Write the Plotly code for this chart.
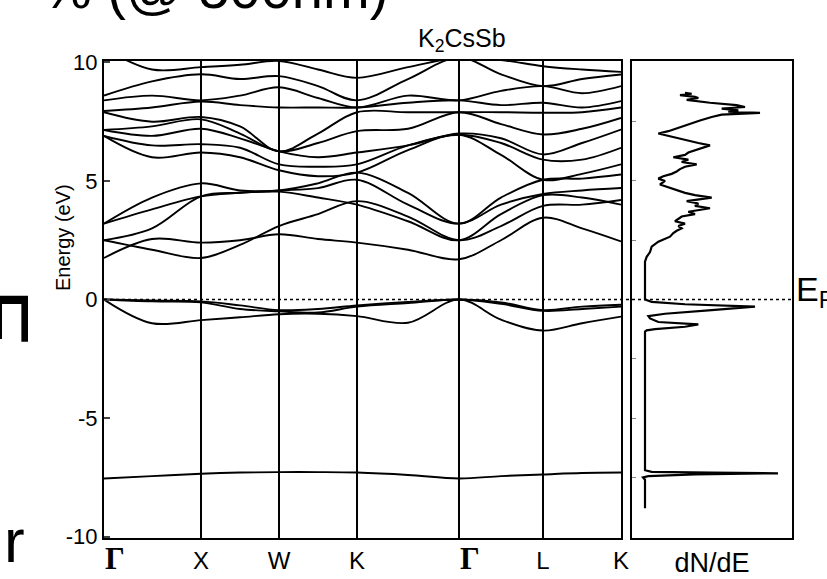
import plotly.graph_objects as go

W, H = 827, 579

# k-path (distances along path, arbitrary units) and labels
k_nodes = [0, 97, 175, 253, 355, 439, 517]
k_labels = ["Γ", "X", "W", "K", "Γ", "L", "K"]
# sampled k positions (nodes + segment midpoints)
k_samp = [0, 48, 97, 136, 175, 214, 253, 304, 355, 397, 439, 478, 517]

# band energies (eV) at k_samp
core_band = [-7.55, -7.45, -7.35, -7.30, -7.28, -7.28, -7.30, -7.40, -7.55, -7.45, -7.38, -7.32, -7.30]
vb1 = [0.00, -0.04, -0.08, -0.25, -0.45, -0.40, -0.25, -0.10, 0.00, -0.12, -0.45, -0.30, -0.22]
vb2 = [0.00, -0.08, -0.12, -0.40, -0.50, -0.55, -0.30, -0.15, 0.00, -0.18, -0.48, -0.40, -0.30]
vb3 = [0.00, -1.00, -0.87, -0.75, -0.62, -0.60, -0.70, -0.98, 0.00, -0.85, -1.31, -1.00, -0.72]
cb1 = [1.75, 2.55, 2.40, 2.50, 2.75, 2.55, 2.40, 2.10, 1.70, 2.50, 3.45, 3.00, 2.45]
cb2 = [2.50, 2.10, 1.75, 2.30, 3.10, 3.60, 4.15, 3.50, 2.50, 3.10, 3.95, 4.00, 4.20]
cb3 = [2.50, 3.00, 4.35, 4.50, 4.55, 4.30, 4.00, 3.30, 2.50, 3.60, 4.40, 4.30, 4.00]
cb4 = [3.20, 3.80, 4.35, 4.50, 4.60, 4.70, 5.05, 4.00, 3.20, 4.00, 4.45, 4.60, 4.70]
cb5 = [3.20, 4.30, 4.90, 4.60, 4.60, 4.90, 5.35, 4.50, 3.20, 4.30, 5.05, 5.10, 5.27]
cb6 = [6.90, 6.00, 6.20, 6.00, 5.45, 5.20, 5.35, 6.30, 6.95, 6.10, 5.05, 5.30, 5.70]
cb7 = [6.90, 6.50, 6.55, 6.40, 5.70, 5.60, 5.70, 6.50, 6.95, 6.60, 5.90, 5.90, 6.40]
cb8 = [7.15, 6.90, 7.20, 6.80, 6.25, 6.00, 6.20, 6.50, 7.00, 6.80, 6.12, 6.60, 7.17]
cb9 = [7.15, 7.30, 7.60, 7.00, 6.25, 6.60, 7.10, 7.20, 7.90, 7.40, 6.96, 7.20, 7.66]
cb10 = [7.90, 7.50, 7.70, 7.30, 6.25, 7.00, 7.90, 7.90, 7.90, 7.90, 7.88, 7.90, 8.10]
cb11 = [7.95, 8.10, 8.35, 8.20, 8.10, 8.10, 8.10, 8.30, 8.40, 8.20, 8.30, 8.10, 8.37]
cb12 = [8.40, 8.60, 8.40, 8.60, 8.95, 8.50, 8.10, 8.60, 8.40, 8.80, 9.00, 8.70, 9.00]
cb13 = [8.60, 9.20, 9.50, 9.30, 9.42, 9.00, 8.40, 9.30, 10.20, 9.50, 9.00, 9.30, 9.49]
cb14 = [10.60, 9.70, 9.80, 9.90, 10.06, 9.70, 9.35, 9.80, 10.20, 10.10, 9.84, 9.70, 9.60]
cb15 = [11.00, 10.40, 10.50, 10.60, 10.60, 10.50, 10.20, 10.60, 10.80, 10.60, 10.40, 10.30, 10.20]

bands = [core_band, vb1, vb2, vb3, cb1, cb2, cb3, cb4, cb5, cb6, cb7, cb8,
         cb9, cb10, cb11, cb12, cb13, cb14, cb15]

# density of states (arbitrary units) vs energy (eV)
dos_E = [-8.8, -7.6, -7.5, -7.45, -7.38, -7.33, -7.3, -7.27, -7.2,
         -1.35, -1.3, -1.25, -1.15, -1.05, -0.95, -0.8, -0.7, -0.6, -0.45, -0.3, -0.2, -0.1, 0.0,
         1.6, 1.8, 2.0, 2.23, 2.44, 2.65, 2.8, 2.9, 3.0, 3.1, 3.2, 3.3, 3.4, 3.5, 3.6, 3.7, 3.85,
         3.95, 4.05, 4.15, 4.3, 4.4, 4.5, 4.65, 4.85, 5.0, 5.1, 5.2, 5.3, 5.4, 5.5, 5.6, 5.7,
         5.8, 5.9, 6.0, 6.1, 6.2, 6.35, 6.5, 6.6, 6.7, 6.85, 7.0, 7.1, 7.2, 7.3, 7.4, 7.55,
         7.7, 7.8, 7.87, 7.92, 7.98, 8.05, 8.12, 8.2, 8.3, 8.42, 8.5, 8.55, 8.62, 8.68, 8.72]
dos_v = [0, 0, -6, 10, 150, 399, 200, 20, 0,
         0, 5, 30, 120, 160, 40, 15, 10, 60, 200, 330, 120, 20, 0,
         0, 5, 15, 20, 40, 75, 85, 95, 110, 100, 120, 90, 100, 110, 150, 130, 195,
         150, 160, 125, 200, 150, 120, 85, 45, 60, 40, 55, 80, 95, 105, 120, 155,
         110, 130, 85, 120, 130, 160, 195, 160, 130, 80, 40, 70, 90, 110, 130, 165,
         200, 230, 345, 250, 280, 230, 300, 275, 195, 125, 160, 150, 105, 140, 120]

E_range = [-10.06, 10.06]
dos_range = [-39, 441]
dos_label_pos = 201

fig = go.Figure()
for b in bands:
    fig.add_trace(go.Scatter(x=k_samp, y=b, mode="lines",
                             line=dict(color="black", width=1.9, shape="spline", smoothing=1.0),
                             xaxis="x", yaxis="y", showlegend=False, hoverinfo="skip"))

fig.add_trace(go.Scatter(x=dos_v, y=dos_E, mode="lines",
                         line=dict(color="black", width=2.2),
                         xaxis="x2", yaxis="y2", showlegend=False, hoverinfo="skip"))

def px_x(p):
    return p / W

def px_y(p):
    return 1 - p / H

gamma_style = '<span style="font-family:Liberation Serif;font-size:31px"><b>\u2002\u2009Γ</b></span>'
ticktext = [gamma_style if l == "Γ" else l for l in k_labels]

axis_common = dict(showline=True, mirror=True, linecolor="black", linewidth=2,
                   zeroline=False, automargin=False)

fig.update_layout(
    width=W, height=H,
    margin=dict(l=0, r=0, t=0, b=0, autoexpand=False),
    paper_bgcolor="white", plot_bgcolor="white",
    font=dict(family="Liberation Sans, Arial, sans-serif", color="black", size=22),
    xaxis=dict(domain=[px_x(104), px_x(621)], range=[k_nodes[0], k_nodes[-1]],
               tickvals=k_nodes, ticktext=ticktext, ticks="",
               showgrid=True, gridcolor="black", gridwidth=1.5,
               tickfont=dict(size=24), **axis_common),
    yaxis=dict(domain=[px_y(538), px_y(61)], range=E_range, showgrid=False,
               tickvals=[-10, -5, 0, 5, 10], ticktext=["-10", "-5", "0", "5", "10"],
               ticks="inside", ticklen=6, tickwidth=1.5, tickfont=dict(size=22),
               **axis_common),
    xaxis2=dict(domain=[px_x(632), px_x(792)], range=dos_range, anchor="y2", showgrid=False,
                tickvals=[dos_label_pos], ticktext=["dN/dE"], ticks="",
                tickfont=dict(size=27), **axis_common),
    yaxis2=dict(domain=[px_y(538), px_y(61)], range=E_range, anchor="x2", showgrid=False,
                tickvals=[-7.5, -5, -2.5, 2.5, 5, 7.5], ticks="inside", ticklen=4,
                tickcolor="#888", showticklabels=False, **axis_common),
)

# Fermi level dotted line across both panels
fig.add_shape(type="line", xref="paper", yref="y", x0=px_x(104), x1=px_x(792), y0=0, y1=0,
              line=dict(color="black", width=1.5, dash="dot"))

ann = [
    dict(text="K<sub>2</sub>CsSb", x=px_x(462), y=px_y(40), font=dict(size=25, family="Liberation Sans Narrow, Liberation Sans"),
         xanchor="center", yanchor="middle"),
    dict(text="Energy (eV)", x=px_x(63), y=px_y(238), textangle=-90, font=dict(size=20),
         xanchor="center", yanchor="middle"),
    dict(text="E<sub>F</sub>", x=px_x(794), y=px_y(291), font=dict(size=34),
         xanchor="left", yanchor="middle"),
    dict(text="% (@ 500nm)", x=px_x(390), y=px_y(-45), font=dict(size=56),
         xanchor="right", yanchor="top"),
    dict(text="r", x=px_x(2), y=px_y(540), font=dict(size=62),
         xanchor="left", yanchor="middle"),
    dict(text="E", x=px_x(50), y=px_y(318), font=dict(size=88), textangle=90,
         xanchor="right", yanchor="middle"),
]
for a in ann:
    fig.add_annotation(xref="paper", yref="paper", showarrow=False, **a)

fig.write_html("out.html")
